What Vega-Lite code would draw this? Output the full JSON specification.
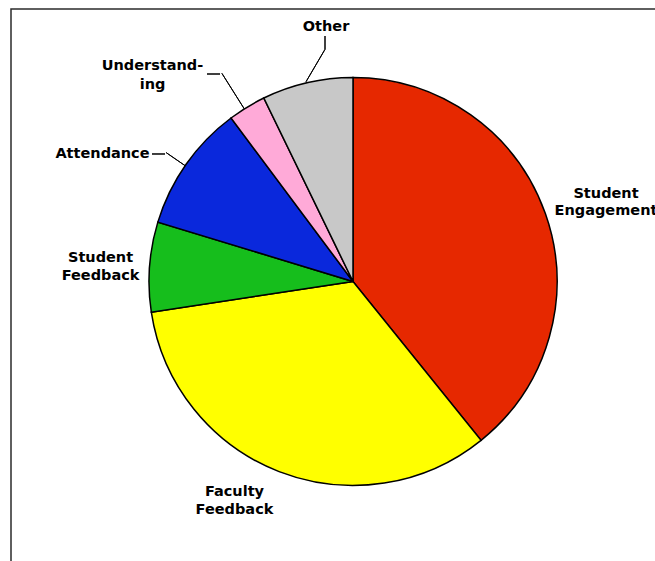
{
  "$schema": "https://vega.github.io/schema/vega-lite/v6.json",
  "width": 684,
  "height": 600,
  "autosize": {"type": "none"},
  "padding": {"left": 11, "top": 9, "right": 0, "bottom": 0},
  "background": "white",
  "view": {"stroke": "#2b2b2b", "strokeWidth": 1.5, "fill": "white"},
  "config": {
    "text": {"font": "DejaVu Sans", "fontSize": 14.5, "fontWeight": "bold", "color": "black"}
  },
  "data": {
    "values": [
      {"category": "Student Engagement", "label": "Student\nEngagement", "share": 39.2},
      {"category": "Faculty Feedback", "label": "Faculty\nFeedback", "share": 33.4},
      {"category": "Student Feedback", "label": "Student\nFeedback", "share": 7.1},
      {"category": "Attendance", "label": "Attendance", "share": 10.1},
      {"category": "Understanding", "label": "Understand-\ning", "share": 3.0},
      {"category": "Other", "label": "Other", "share": 7.2}
    ]
  },
  "transform": [{"window": [{"op": "row_number", "as": "idx"}]}],
  "encoding": {
    "theta": {"field": "share", "type": "quantitative", "stack": true},
    "order": {"field": "idx", "type": "quantitative"}
  },
  "layer": [
    {
      "mark": {"type": "arc", "radius": 204, "stroke": "black", "strokeWidth": 1.5, "y": 272.5},
      "encoding": {
        "color": {
          "field": "category",
          "type": "nominal",
          "scale": {
            "domain": ["Student Engagement", "Faculty Feedback", "Student Feedback", "Attendance", "Understanding", "Other"],
            "range": ["#E62800", "#FFFF00", "#16BE1C", "#0A28DC", "#FFAAD8", "#C8C8C8"]
          },
          "legend": null
        }
      }
    },
    {
      "mark": {"type": "arc", "radius": 227, "radius2": 204, "padAngle": 3.14, "thetaOffset": -0.0087, "theta2Offset": -0.0087, "y": 272.5, "fillOpacity": 0, "stroke": "black", "strokeWidth": 1},
      "encoding": {"strokeOpacity": {"condition": {"test": "datum.category === 'Attendance'", "value": 1}, "value": 0}}
    },
    {
      "mark": {"type": "arc", "radius": 201, "radius2": 188, "padAngle": 3.14, "thetaOffset": -0.6126, "theta2Offset": -0.6126, "y": 145, "fillOpacity": 0, "stroke": "black", "strokeWidth": 1},
      "encoding": {"strokeOpacity": {"condition": {"test": "datum.category === 'Attendance'", "value": 1}, "value": 0}}
    },
    {
      "mark": {"type": "arc", "radius": 246, "radius2": 204, "padAngle": 3.14, "thetaOffset": -0.0154, "theta2Offset": -0.0154, "y": 272.5, "fillOpacity": 0, "stroke": "black", "strokeWidth": 1},
      "encoding": {"strokeOpacity": {"condition": {"test": "datum.category === 'Understanding'", "value": 1}, "value": 0}}
    },
    {
      "mark": {"type": "arc", "radius": 146, "radius2": 133, "padAngle": 3.14, "thetaOffset": -1.0242, "theta2Offset": -1.0242, "y": 65, "fillOpacity": 0, "stroke": "black", "strokeWidth": 1},
      "encoding": {"strokeOpacity": {"condition": {"test": "datum.category === 'Understanding'", "value": 1}, "value": 0}}
    },
    {
      "mark": {"type": "arc", "radius": 269.2, "radius2": 231.6, "padAngle": 3.14, "thetaOffset": 0.7568, "theta2Offset": 0.7568, "x": 177.8, "y": 272.5, "fillOpacity": 0, "stroke": "black", "strokeWidth": 1},
      "encoding": {"strokeOpacity": {"condition": {"test": "datum.category === 'Other'", "value": 1}, "value": 0}}
    },
    {
      "mark": {"type": "arc", "radius": 245.5, "radius2": 232.2, "padAngle": 3.14, "thetaOffset": 0.2262, "theta2Offset": 0.2262, "x": 314, "y": 272.5, "fillOpacity": 0, "stroke": "black", "strokeWidth": 1},
      "encoding": {"strokeOpacity": {"condition": {"test": "datum.category === 'Other'", "value": 1}, "value": 0}}
    },
    {
      "mark": {"type": "text", "radius": 265.2, "thetaOffset": 0.0349, "y": 272.5, "dy": -8.5, "lineBreak": "\n", "lineHeight": 17, "align": "center", "baseline": "middle"},
      "encoding": {"text": {"condition": {"test": "datum.category === 'Student Engagement'", "field": "label"}, "value": ""}}
    },
    {
      "mark": {"type": "text", "radius": 248.6, "thetaOffset": 0.1262, "y": 272.5, "dy": -8.5, "lineBreak": "\n", "lineHeight": 18, "align": "center", "baseline": "middle"},
      "encoding": {"text": {"condition": {"test": "datum.category === 'Faculty Feedback'", "field": "label"}, "value": ""}}
    },
    {
      "mark": {"type": "text", "radius": 252.9, "thetaOffset": -0.0138, "y": 272.5, "dy": -8.5, "lineBreak": "\n", "lineHeight": 17.5, "align": "center", "baseline": "middle"},
      "encoding": {"text": {"condition": {"test": "datum.category === 'Student Feedback'", "field": "label"}, "value": ""}}
    },
    {
      "mark": {"type": "text", "radius": 281.1, "thetaOffset": -0.1419, "y": 272.5, "lineBreak": "\n", "lineHeight": 17, "align": "center", "baseline": "middle"},
      "encoding": {"text": {"condition": {"test": "datum.category === 'Attendance'", "field": "label"}, "value": ""}}
    },
    {
      "mark": {"type": "text", "radius": 287.8, "thetaOffset": -0.2241, "y": 272.5, "dy": -9, "lineBreak": "\n", "lineHeight": 18.5, "align": "center", "baseline": "middle"},
      "encoding": {"text": {"condition": {"test": "datum.category === 'Understanding'", "field": "label"}, "value": ""}}
    },
    {
      "mark": {"type": "text", "radius": 257.9, "thetaOffset": 0.1213, "y": 272.5, "dy": 2, "lineBreak": "\n", "lineHeight": 17, "align": "center", "baseline": "middle"},
      "encoding": {"text": {"condition": {"test": "datum.category === 'Other'", "field": "label"}, "value": ""}}
    }
  ]
}
